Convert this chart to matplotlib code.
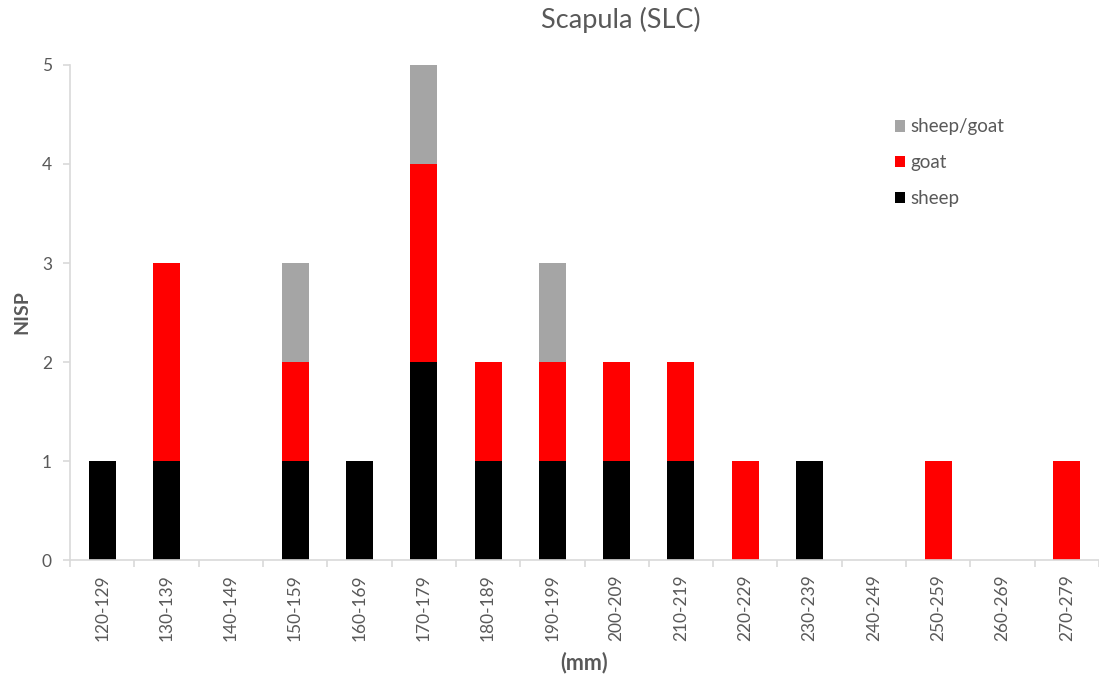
import matplotlib
matplotlib.use("Agg")
import matplotlib.pyplot as plt
import numpy as np

categories = ["120-129", "130-139", "140-149", "150-159", "160-169", "170-179",
              "180-189", "190-199", "200-209", "210-219", "220-229", "230-239",
              "240-249", "250-259", "260-269", "270-279"]
sheep      = [1, 1, 0, 1, 1, 2, 1, 1, 1, 1, 0, 1, 0, 0, 0, 0]
goat       = [0, 2, 0, 1, 0, 2, 1, 1, 1, 1, 1, 0, 0, 1, 0, 1]
sheep_goat = [0, 0, 0, 1, 0, 1, 0, 1, 0, 0, 0, 0, 0, 0, 0, 0]

plt.rcParams['font.family'] = ['Lato', 'DejaVu Sans']
text_col = "#595959"
axis_col = "#d9d9d9"

fig = plt.figure(figsize=(10.99, 6.77), dpi=100)
ax = fig.add_axes([0.0637, 0.1728, 0.9363, 0.7312])

x = np.arange(len(categories))
w = 0.42
sheep_a = np.array(sheep)
goat_a = np.array(goat)
sg_a = np.array(sheep_goat)
b1 = ax.bar(x, sheep_a, w, color="#000000", label="sheep")
b2 = ax.bar(x, goat_a, w, bottom=sheep_a, color="#ff0000", label="goat")
b3 = ax.bar(x, sg_a, w, bottom=sheep_a + goat_a, color="#a5a5a5", label="sheep/goat")

ax.set_xlim(-0.5, -0.5 + 1029 / 64.6)
ax.set_ylim(0, 5)
ax.set_yticks(range(6))
ax.set_xticks(x)
ax.set_xticklabels(categories, rotation=90)
ax.set_xticks(np.arange(-0.5, len(categories), 1), minor=True)

for s in ["top", "right"]:
    ax.spines[s].set_visible(False)
for s in ["left", "bottom"]:
    ax.spines[s].set_color(axis_col)
    ax.spines[s].set_linewidth(1.2)

ax.tick_params(axis="x", which="major", length=0, pad=10, labelsize=12.5, labelcolor=text_col)
ax.tick_params(axis="x", which="minor", length=5, color=axis_col, width=1.2)
ax.tick_params(axis="y", length=5, color=axis_col, width=1.2, labelsize=12.5,
               labelcolor=text_col, pad=8)

ax.set_ylabel("NISP", fontsize=14, fontweight="bold", color=text_col, labelpad=8)
ax.set_xlabel("(mm)", fontsize=15.5, fontweight="bold", color=text_col, labelpad=8)
fig.suptitle("Scapula (SLC)", x=0.565, y=0.99, fontsize=19.5, color=text_col)

leg = ax.legend(handles=[b3, b2, b1], labels=["sheep/goat", "goat", "sheep"],
                loc="upper left", bbox_to_anchor=(0.785, 0.926), frameon=False,
                fontsize=13.5, handlelength=0.55, handleheight=0.55,
                handletextpad=0.3, labelspacing=1.0)
for t in leg.get_texts():
    t.set_color(text_col)

fig.savefig("out.png", dpi=100)
